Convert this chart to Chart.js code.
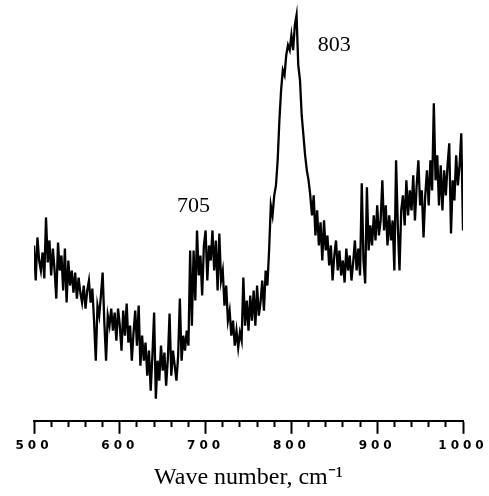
<!DOCTYPE html>
<html>
<head>
<meta charset="utf-8">
<script src="https://cdn.jsdelivr.net/npm/chart.js@4"></script>
<style>
  html, body { margin: 0; padding: 0; background: #fff; }
  #wrap { width: 489px; height: 496px; }
</style>
</head>
<body>
<div id="wrap"><canvas id="spectrum"></canvas></div>
<script>
// wave numbers (cm-1) and intensity (arbitrary units)
var wavenumbers = [
  500,502,504,506,508,510,512,514,516,518, 520,522,524,526,528,530,532,534,536,538,
  540,542,544,546,548,550,552,554,556,558, 560,562,564,566,568,570,572,574,576,578,
  580,582,584,586,588,590,592,594,596,598, 600,602,604,606,608,610,612,614,616,618,
  620,622,624,626,628,630,632,634,636,638, 640,642,644,646,648,650,652,654,656,658,
  660,662,664,666,668,670,672,674,676,678, 680,682,684,686,688,690,692,694,696,698,
  700,702,704,706,708,710,712,714,716,718, 720,722,724,726,728,730,732,734,736,738,
  740,742,744,746,748,750,752,754,756,758, 760,762,764,766,768,770,772,774,776,778,
  780,782,784,786,788,790,792,794,796,798, 800,802,804,806,808,810,812,814,816,818,
  820,822,824,826,828,830,832,834,836,838, 840,842,844,846,848,850,852,854,856,858,
  860,862,864,866,868,870,872,874,876,878, 880,882,884,886,888,890,892,894,896,898,
  900,902,904,906,908,910,912,914,916,918, 920,922,924,926,928,930,932,934,936,938,
  940,942,944,946,948,950,952,954,956,958, 960,962,964,966,968,970,972,974,976,978,
  980,982,984,986,988,990,992,994,996,998, 1000
];
var intensity = [
  175,140,183,160,150,168,142,203,158,180, 145,172,150,122,178,150,165,130,172,118,
  160,135,150,128,148,122,143,128,118,135, 112,130,140,118,132,100,60,115,105,125,
  148,98,60,105,95,112,90,108,80,112, 95,70,110,85,117,78,95,60,88,110,
  75,115,55,85,60,78,45,70,30,65, 108,22,60,40,75,50,68,35,62,107,
  45,70,55,40,65,122,60,85,70,90, 75,170,95,170,120,190,145,165,125,175,
  190,140,175,160,190,150,180,130,187,140, 150,115,135,100,110,85,100,75,90,73,
  88,80,143,95,120,90,125,100,130,95, 135,105,118,140,110,150,135,170,215,205,
  225,235,260,300,330,350,345,365,375,370, 385,370,395,405,355,340,305,285,265,250,
  240,225,205,225,185,210,175,198,160,200, 170,185,155,175,140,165,180,150,170,145,
  160,138,172,150,165,140,158,180,150,172, 145,237,160,137,233,170,195,175,205,180,
  215,185,200,240,190,215,175,205,180,200, 150,260,195,150,210,225,195,240,205,230,
  210,245,200,235,260,215,230,183,225,250, 215,260,230,317,240,265,215,255,210,250,
  225,255,277,187,240,220,265,235,255,287, 190
];
var tickLabels = ['500', '600', '700', '800', '900', '1000'];
var peakNames = ['705', '803'];

var points = wavenumbers.map(function (w, i) { return { x: w, y: intensity[i] }; });

// peak labels, placed in data units
var peakLabelPlugin = {
  id: 'peakLabels',
  afterDatasetsDraw: function (chart) {
    // spaced-out digits on the tick labels (drawn after the datasets)
    chart.ctx.letterSpacing = '4px';
  },
  afterDraw: function (chart) {
    var ctx = chart.ctx;
    ctx.letterSpacing = '0px';
    var xs = chart.scales.x, ys = chart.scales.y;
    var spots = [[686, 214], [850, 375]];
    ctx.save();
    ctx.fillStyle = '#000';
    ctx.font = '22px "Liberation Serif"';
    ctx.textAlign = 'center';
    ctx.textBaseline = 'middle';
    peakNames.forEach(function (t, i) {
      ctx.fillText(t, xs.getPixelForValue(spots[i][0]), ys.getPixelForValue(spots[i][1]));
    });
    ctx.restore();
  }
};

new Chart(document.getElementById('spectrum').getContext('2d'), {
  type: 'line',
  data: {
    datasets: [{
      data: points,
      borderColor: '#000',
      borderWidth: 2.3,
      pointRadius: 0,
      tension: 0,
      fill: false
    }]
  },
  options: {
    responsive: true,
    maintainAspectRatio: false,
    animation: false,
    layout: { padding: { left: 34, right: 26, top: 0, bottom: 0 } },
    plugins: { legend: { display: false }, tooltip: { enabled: false } },
    scales: {
      x: {
        type: 'linear',
        min: 500,
        max: 1000,
        border: { display: true, color: '#000', width: 2 },
        grid: {
          drawOnChartArea: false,
          drawTicks: true,
          tickLength: 13,
          tickWidth: 2,
          tickColor: '#000',
          tickBorderDash: function (c) { return c.tick && c.tick.value % 100 === 0 ? [] : [5, 30]; }
        },
        ticks: {
          stepSize: 20,
          autoSkip: false,
          maxRotation: 0,
          padding: 5,
          z: 1,
          color: '#000',
          font: { family: 'DejaVu Sans', weight: 'bold', size: 12 },
          callback: function (v) { return v % 100 === 0 ? tickLabels[(v - 500) / 100] : ''; }
        },
        title: {
          display: true,
          text: 'Wave number, cm⁻¹',
          color: '#000',
          font: { family: 'Liberation Serif', size: 24 },
          padding: { top: 5, bottom: 4 }
        }
      },
      y: { display: false, min: 0, max: 420 }
    }
  },
  plugins: [peakLabelPlugin]
});
</script>
</body>
</html>
